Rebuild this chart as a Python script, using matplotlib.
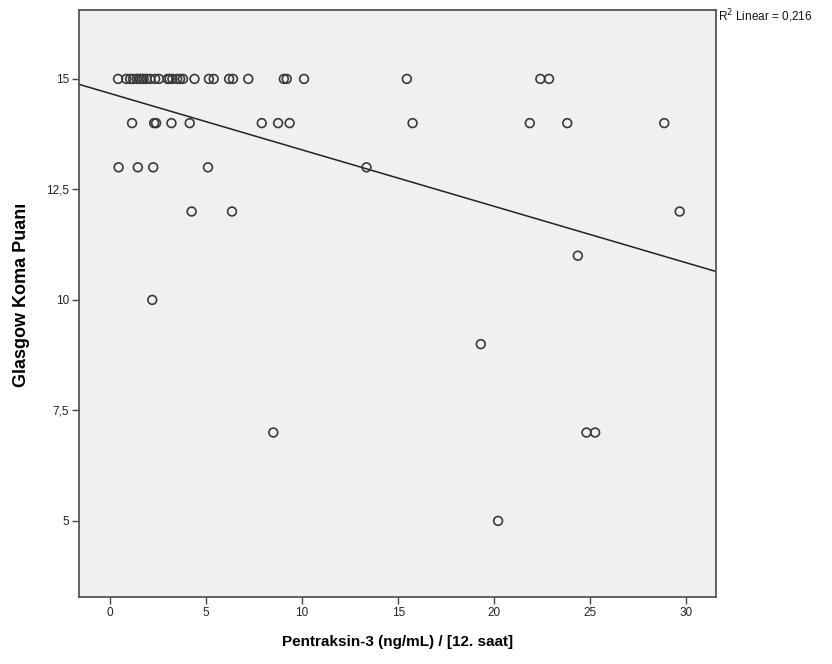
import numpy as np
import matplotlib
matplotlib.use("Agg")
import matplotlib.pyplot as plt
from matplotlib.ticker import FuncFormatter

# values, grouped by GKS score
x_15 = [0.42, 0.85, 1.05, 1.2, 1.4, 1.55, 1.65, 1.75, 1.9, 2.1, 2.35, 2.55, 3.0, 3.1,
        3.25, 3.5, 3.65, 3.8, 4.4, 5.15, 5.4, 6.2, 6.4, 7.2, 9.05, 9.2, 10.1, 15.45,
        22.4, 22.85]
x_14 = [1.15, 2.3, 2.4, 3.2, 4.15, 7.9, 8.75, 9.35, 15.75, 21.85, 23.8, 28.85]
x_13 = [0.45, 1.45, 2.25, 5.1, 13.35]
x_12 = [4.25, 6.35, 29.65]
x_11 = [24.35]
x_10 = [2.2]
x_9 = [19.3]
x_7 = [8.5, 24.8, 25.25]
x_5 = [20.2]

groups = [(15, x_15), (14, x_14), (13, x_13), (12, x_12), (11, x_11),
          (10, x_10), (9, x_9), (7, x_7), (5, x_5)]

pentraksin = []
gks = []
for score, xs in groups:
    for v in xs:
        pentraksin.append(v)
        gks.append(score)
pentraksin = np.array(pentraksin)
gks = np.array(gks)

r2_text = "0,216"
x_ticks = [0, 5, 10, 15, 20, 25, 30]
y_ticks = [5, 7.5, 10, 12.5, 15]

fig = plt.figure(figsize=(8.32, 6.64), dpi=100)
ax = fig.add_axes([0.095, 0.101, 0.766, 0.884])
ax.set_facecolor("#f0f0f0")

ax.scatter(pentraksin, gks, s=40, facecolors="none", edgecolors="#3a3a3a", linewidths=1.2, zorder=3)

xlim = (-1.61, 31.56)
slope, intercept = np.polyfit(pentraksin, gks, 1)
xx = np.array(xlim)
ax.plot(xx, intercept + slope * xx, color="#222222", lw=1.1, zorder=2)

ax.set_xlim(*xlim)
ax.set_ylim(3.28, 16.56)
ax.set_xticks(x_ticks)
ax.set_yticks(y_ticks)
ax.yaxis.set_major_formatter(FuncFormatter(lambda v, p: ("%g" % v).replace(".", ",")))

for s in ax.spines.values():
    s.set_color("#555555")
    s.set_linewidth(1.3)
ax.tick_params(direction="out", length=5, width=1, color="#444444", labelsize=8.5,
               labelcolor="#222222", pad=2)
for lab in ax.get_xticklabels() + ax.get_yticklabels():
    lab.set_family(["Liberation Sans", "DejaVu Sans"])

ax.set_xlabel("Pentraksin-3 (ng/mL) / [12. saat]", fontsize=11, fontweight="bold",
              family=["Liberation Sans", "DejaVu Sans"], labelpad=12)
ax.set_ylabel("Glasgow Koma Puanı", fontsize=13, fontweight="bold",
              family=["Liberation Sans", "DejaVu Sans"])
ax.yaxis.set_label_coords(-0.077, 0.514)

fig.text(0.863, 0.976, "R$^2$ Linear = " + r2_text, fontsize=8.5, ha="left", va="center",
         family=["Liberation Sans", "DejaVu Sans"], color="#111111")

fig.savefig("out.png", dpi=100, facecolor="white")
